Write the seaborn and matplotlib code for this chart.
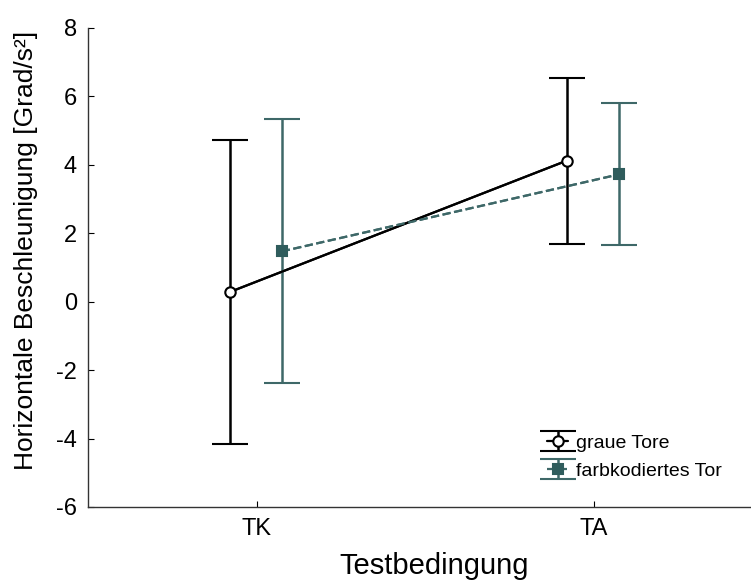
import matplotlib
matplotlib.use("Agg")
import matplotlib.pyplot as plt
import seaborn as sns
import pandas as pd
import numpy as np

conditions = ["TK", "TA"]
grey_mean = [0.28, 4.12]
grey_upper = [4.72, 6.55]
grey_lower = [-4.17, 1.70]
color_mean = [1.47, 3.72]
color_upper = [5.33, 5.82]
color_lower = [-2.37, 1.65]
y_ticks = [-6, -4, -2, 0, 2, 4, 6, 8]

sns.set_style("ticks")
plt.rcParams["font.family"] = ["Liberation Sans", "DejaVu Sans"]
plt.rcParams["axes.unicode_minus"] = False
plt.rcParams["text.color"] = "black"
plt.rcParams["axes.labelcolor"] = "black"
plt.rcParams["xtick.color"] = "black"
plt.rcParams["ytick.color"] = "black"

fig = plt.figure(figsize=(7.51, 5.83), dpi=100)
ax = fig.add_axes([0.1172, 0.1304, 0.8975, 0.8216])

teal = "#3e6868"
teal_fill = "#2f5c5c"
base = np.arange(1, len(conditions) + 1)

df = pd.DataFrame({
    "x": np.concatenate([base - 0.08, base + 0.075]),
    "mean": grey_mean + color_mean,
    "lo": grey_lower + color_lower,
    "hi": grey_upper + color_upper,
    "group": ["graue Tore"] * 2 + ["farbkodiertes Tor"] * 2,
})

styles = {
    "graue Tore": dict(color="black", ls="-", marker="o", mfc="white", mec="black", ms=7.5),
    "farbkodiertes Tor": dict(color=teal, ls="--", marker="s", mfc=teal_fill, mec=teal_fill, ms=7),
}

handles = []
for name in ["graue Tore", "farbkodiertes Tor"]:
    sub = df[df["group"] == name]
    st = styles[name]
    sns.lineplot(data=sub, x="x", y="mean", ax=ax, color=st["color"],
                 linestyle=st["ls"], linewidth=1.6, zorder=2, legend=False)
    yerr = np.vstack([sub["mean"] - sub["lo"], sub["hi"] - sub["mean"]])
    h = ax.errorbar(sub["x"], sub["mean"], yerr=yerr, marker=st["marker"],
                    linestyle=st["ls"], linewidth=1.6,
                    color=st["color"], ecolor=st["color"], elinewidth=1.8,
                    capsize=13, capthick=1.8, mfc=st["mfc"], mec=st["mec"],
                    mew=1.5, ms=st["ms"], zorder=3, label=name)
    handles.append(h)

ax.set_xlim(0.5, 2.5)
ax.set_ylim(-6, 8)
ax.set_xticks(base)
ax.set_xticklabels(conditions)
ax.set_yticks(y_ticks)
ax.tick_params(axis="both", direction="in", length=4, width=0.8, labelsize=17, pad=8)
for s in ["top", "right"]:
    ax.spines[s].set_visible(False)
for s in ["left", "bottom"]:
    ax.spines[s].set_linewidth(1.0)
    ax.spines[s].set_color("#333333")

ax.set_xlabel("Testbedingung", fontsize=21)
ax.xaxis.set_label_coords(0.513, -0.093)
ax.set_ylabel("Horizontale Beschleunigung [Grad/s²]", fontsize=19)
ax.yaxis.set_label_coords(-0.074, 0.535)

ax.legend(handles=handles, labels=["graue Tore", "farbkodiertes Tor"],
          loc="lower left", bbox_to_anchor=(0.655, 0.02), frameon=False,
          fontsize=14, handlelength=1.1, handleheight=0.7,
          handletextpad=0.4, labelspacing=0.55)

fig.savefig("out.png", dpi=100)
